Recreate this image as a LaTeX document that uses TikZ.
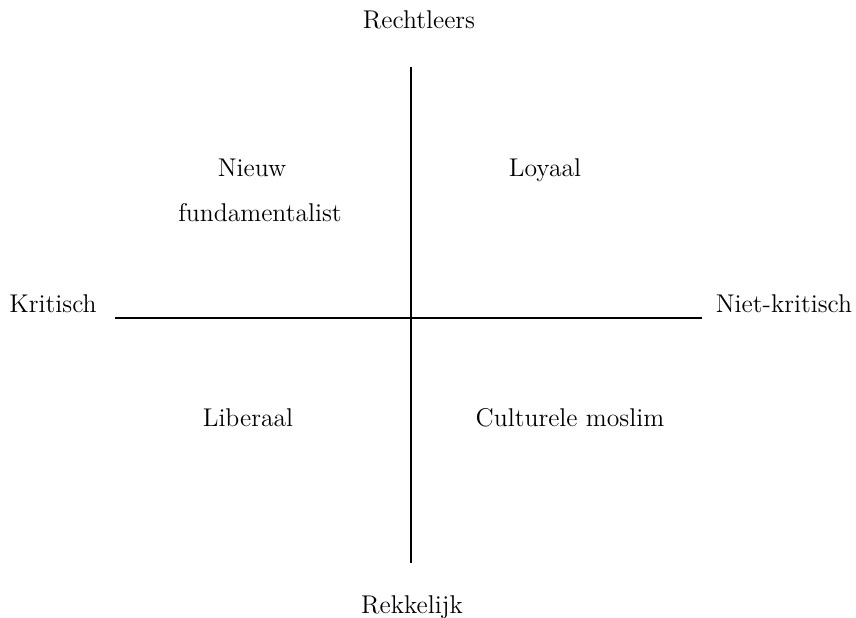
\documentclass[tikz,border=0pt]{standalone}
\begin{document}
\begin{tikzpicture}[x=0.02cm,y=-0.02cm,
        label/.style={anchor=base,inner sep=0pt,font=\fontsize{14.6}{17}\selectfont}]
        \useasboundingbox (0,0) rectangle (856,618);
        \coordinate (top) at (411,67);
        \coordinate (bottom) at (411,563);
        \coordinate (left) at (115,318);
        \coordinate (right) at (702,318);
        \draw[black,line width=0.7pt] (top) -- (bottom);
        \draw[black,line width=0.7pt] (left) -- (right);
        \node[label] (rechtleers) at (419,29) {Rechtleers};
        \node[label] (rekkelijk) at (412,613) {Rekkelijk};
        \node[label] (kritisch) at (53,313) {Kritisch};
        \node[label] (nietkritisch) at (784,313) {Niet-kritisch};
        \node[label] (nieuw) at (252,177) {Nieuw};
        \node[label] (fundamentalist) at (260,222) {fundamentalist};
        \node[label] (loyaal) at (545,177) {Loyaal};
        \node[label] (liberaal) at (248,426) {Liberaal};
        \node[label] (cultureel) at (570,426) {Culturele moslim};
    \end{tikzpicture}
\end{document}
